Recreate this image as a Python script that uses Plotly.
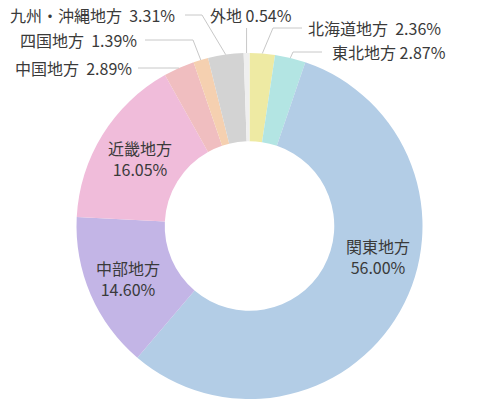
import math
import plotly.graph_objects as go

# ---- data ----
regions = ["北海道地方", "東北地方", "関東地方", "中部地方", "近畿地方",
           "中国地方", "四国地方", "九州・沖縄地方", "外地"]
shares = [2.36, 2.87, 56.00, 14.60, 16.05, 2.89, 1.39, 3.31, 0.54]
colors = ["#EEEAA3", "#B3E5E3", "#B3CDE6", "#C3B5E6", "#F0BCDA",
          "#F0BEC0", "#F5D0B0", "#D3D3D3", "#EFEFEF"]

# label styling / placement (screen pixels of the 500x400 window)
W, H = 500, 400
OFF = 8  # page body margin
CX, CY, R = 249.5, 226.0, 173.0
FONT = "Noto Sans CJK JP"
TXT = "#3A3A3A"

inside_pos = {"関東地方": (378, 256), "近畿地方": (140, 159), "中部地方": (128, 278)}
outside = {
    # name: (text, text_x, text_y, anchor, elbow_x, elbow_y, line_end_x)
    "外地": ("外地 0.54%", 251, 15, "center", None, 28, None),
    "北海道地方": ("北海道地方  2.36%", 306, 28, "left", 273, 28, 302),
    "東北地方": ("東北地方 2.87%", 330, 52, "left", 293, 52, 322),
    "九州・沖縄地方": ("九州・沖縄地方  3.31%", 177, 15, "right", 202, 15, 185),
    "四国地方": ("四国地方  1.39%", 139, 40, "right", 193, 40, 145),
    "中国地方": ("中国地方  2.89%", 134, 68, "right", 168, 68, 138),
}


def px(x):
    return (x - OFF) / W


def py(y):
    return 1 - (y - OFF) / H


fig = go.Figure(go.Pie(
    labels=regions, values=shares, sort=False, direction="clockwise",
    rotation=0, hole=0.49, textinfo="none", hoverinfo="label+percent",
    marker=dict(colors=colors, line=dict(width=0)),
    domain=dict(x=[px(CX - R), px(CX + R)], y=[py(CY + R), py(CY - R)]),
    showlegend=False,
))

annotations = []
shapes = []
total = sum(shares)
cum = 0.0
for name, v in zip(regions, shares):
    mid = (cum + v / 2) / total * 2 * math.pi
    cum += v
    if name in inside_pos:
        x, y = inside_pos[name]
        annotations.append(dict(x=px(x), y=py(y), xref="paper", yref="paper",
                                text=f"{name}<br>{v:.2f}%", showarrow=False,
                                xanchor="center", yanchor="middle", align="center",
                                font=dict(family=FONT, size=16, color=TXT)))
    else:
        text, tx, ty, anc, ex, ey, lx = outside[name]
        sx = CX + R * math.sin(mid)
        sy = CY - R * math.cos(mid)
        if ex is None:
            path = f"M {px(sx)} {py(sy)} L {px(sx)} {py(ey)}"
        else:
            path = f"M {px(sx)} {py(sy)} L {px(ex)} {py(ey)} L {px(lx)} {py(ey)}"
        shapes.append(dict(type="path", path=path, xref="paper", yref="paper",
                           line=dict(color="#C8C8C8", width=1)))
        annotations.append(dict(x=px(tx), y=py(ty), xref="paper", yref="paper",
                                text=text, showarrow=False, xanchor=anc, yanchor="middle",
                                font=dict(family=FONT, size=16, color=TXT)))

fig.update_layout(
    width=W, height=H, margin=dict(l=0, r=0, t=0, b=0),
    paper_bgcolor="white", plot_bgcolor="white",
    annotations=annotations, shapes=shapes,
)

fig.write_html("out.html")
